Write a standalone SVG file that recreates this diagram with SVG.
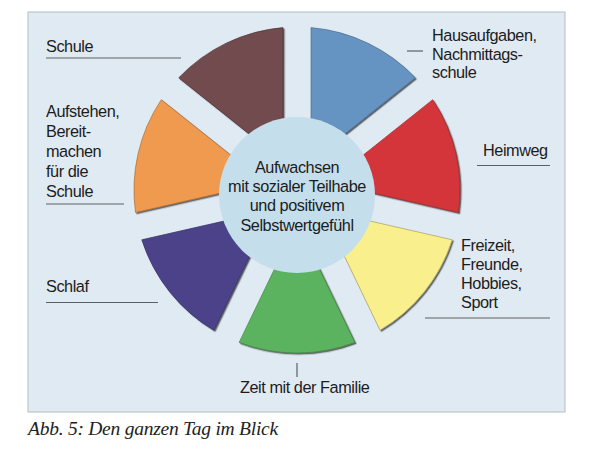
<svg xmlns="http://www.w3.org/2000/svg" width="600" height="450" viewBox="0 0 600 450">
  <defs>
    <filter id="sh" x="-10%" y="-10%" width="130%" height="130%">
      <feDropShadow dx="1.3" dy="1.3" stdDeviation="0.6" flood-color="#222" flood-opacity="0.7"/>
    </filter>
    <style>
      .lbl { font-family: "Liberation Sans", Arial, Helvetica, sans-serif; font-size: 16.3px; letter-spacing: -0.45px; fill: #1c1c1c; }
      .ctr { text-anchor: middle; }
      .sec { filter: url(#sh); stroke-width: 0.7; }
      .lead { stroke: #5a5f63; stroke-width: 1.2; fill: none; }
      .cap { font-family: "Liberation Serif", "Times New Roman", serif; font-style: italic; font-size: 19.5px; letter-spacing: -0.25px; fill: #222; }
    </style>
  </defs>

  <rect x="0" y="0" width="600" height="450" fill="#ffffff"/>
  <rect x="28" y="12" width="537" height="400" fill="#e0eaf3" stroke="#b3bdc4" stroke-width="1"/>

  <g id="hausaufgaben">
    <path class="sec" d="M311,160.9 L311,27.6 A163,163 0 0 1 415.24,77.79 Z" fill="#6593c2" stroke="#4d6f92"/>
    <text class="lbl" x="432" y="40.5">Hausaufgaben,</text>
    <text class="lbl" x="432" y="59.5">Nachmittags-</text>
    <text class="lbl" x="432" y="78">schule</text>
  </g>
  <g id="heimweg">
    <path class="sec" d="M328.49,182.81 L432.7,99.69 A163,163 0 0 1 458.45,212.49 Z" fill="#d3363b" stroke="#9c2a2d"/>
    <text class="lbl" x="483" y="156">Heimweg</text>
  </g>
  <g id="freizeit">
    <path class="sec" d="M322.25,210.14 L452.22,239.79 A163,163 0 0 1 380.07,330.25 Z" fill="#f9ef8d" stroke="#a8a060"/>
    <text class="lbl" x="461" y="250.5">Freizeit,</text>
    <text class="lbl" x="461" y="269.5">Freunde,</text>
    <text class="lbl" x="461" y="289">Hobbies,</text>
    <text class="lbl" x="461" y="308">Sport</text>
  </g>
  <g id="familie">
    <path class="sec" d="M297,222.3 L354.85,342.39 A163,163 0 0 1 239.15,342.39 Z" fill="#5cb35e" stroke="#428544"/>
    <text class="lbl" x="240" y="393">Zeit mit der Familie</text>
  </g>
  <g id="schlaf">
    <path class="sec" d="M271.75,210.14 L213.93,330.25 A163,163 0 0 1 141.79,239.79 Z" fill="#4c438a" stroke="#383166"/>
    <text class="lbl" x="46" y="292">Schlaf</text>
  </g>
  <g id="aufstehen">
    <path class="sec" d="M265.51,182.81 L135.56,212.49 A163,163 0 0 1 161.3,99.69 Z" fill="#f09a4f" stroke="#a96c37"/>
    <text class="lbl" x="46" y="117">Aufstehen,</text>
    <text class="lbl" x="46" y="137">Bereit-</text>
    <text class="lbl" x="46" y="157">machen</text>
    <text class="lbl" x="46" y="177">für die</text>
    <text class="lbl" x="46" y="197">Schule</text>
  </g>
  <g id="schule">
    <path class="sec" d="M282.99,160.9 L178.76,77.79 A163,163 0 0 1 283,27.6 Z" fill="#714b4e" stroke="#4f3436"/>
    <text class="lbl" x="46" y="52">Schule</text>
  </g>

  <g id="zentrum">
    <circle cx="297" cy="195" r="78" fill="#c4dfeb"/>
    <text class="lbl ctr" x="297" y="172.5">Aufwachsen</text>
    <text class="lbl ctr" x="297" y="192">mit sozialer Teilhabe</text>
    <text class="lbl ctr" x="297" y="211.3">und positivem</text>
    <text class="lbl ctr" x="297" y="230.7">Selbstwertgefühl</text>
  </g>

  <g id="connectors">
    <line class="lead" x1="46" y1="58" x2="181" y2="58"/>
    <line class="lead" x1="46" y1="204" x2="124" y2="204"/>
    <line class="lead" x1="46" y1="302.5" x2="158" y2="302.5"/>
    <line class="lead" x1="407" y1="51" x2="423" y2="51"/>
    <line class="lead" x1="477" y1="165.5" x2="550" y2="165.5"/>
    <line class="lead" x1="425" y1="318" x2="550" y2="318"/>
    <line class="lead" x1="297" y1="363" x2="297" y2="377"/>
  </g>

  <text class="cap" x="28" y="435">Abb. 5: Den ganzen Tag im Blick</text>
</svg>
